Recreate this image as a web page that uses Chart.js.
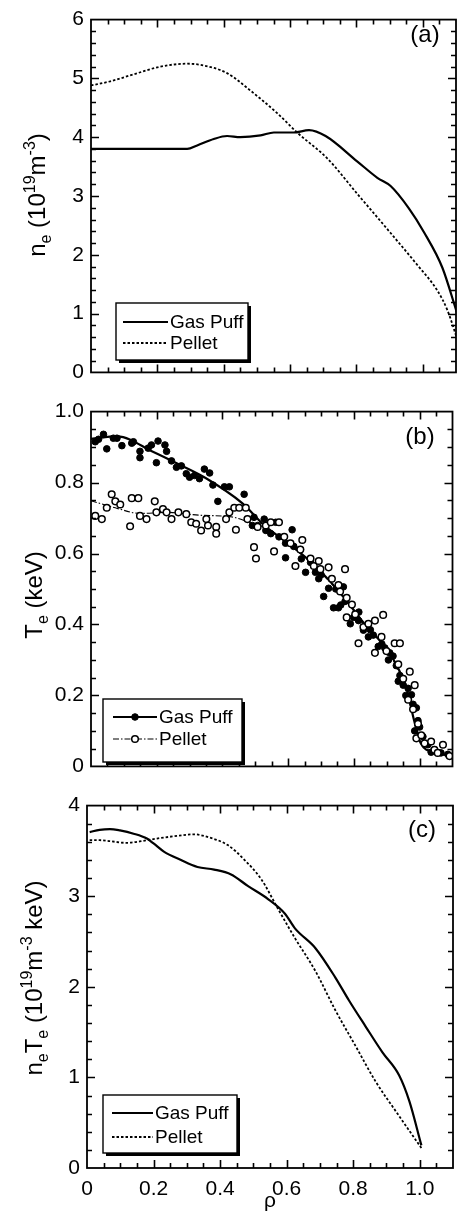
<!DOCTYPE html>
<html><head><meta charset="utf-8">
<script src="https://cdn.jsdelivr.net/npm/chart.js@4.4.0/dist/chart.umd.min.js"></script>
<style>
html,body{margin:0;padding:0;background:#fff;width:458px;height:1214px;overflow:hidden}
canvas{position:absolute;left:0}
</style></head><body>
<canvas id="ca" width="458" height="392" style="top:0px"></canvas>
<canvas id="cb" width="458" height="394" style="top:392px"></canvas>
<canvas id="cc" width="458" height="428" style="top:786px"></canvas>
<script>
// ---------- DATA ----------
const xTickValues = [0, 0.2, 0.4, 0.6, 0.8, 1.0];
const xTickLabels = ['0', '0.2', '0.4', '0.6', '0.8', '1.0'];
// panel (a): electron density
const yTicksA = [0, 1, 2, 3, 4, 5, 6];
const yLabelsA = ['0', '1', '2', '3', '4', '5', '6'];
const rhoNeGas = [0, 0.290, 0.320, 0.370, 0.410, 0.450, 0.511, 0.551, 0.611, 0.657, 0.707, 0.802, 0.863, 0.903, 0.958, 1.004, 1.059, 1.102];
const neGas    = [3.80, 3.80, 3.86, 3.97, 4.02, 4.00, 4.03, 4.08, 4.08, 4.12, 4.02, 3.59, 3.31, 3.17, 2.79, 2.38, 1.78, 1.03];
const rhoNePel = [0, 0.058, 0.129, 0.209, 0.290, 0.330, 0.410, 0.481, 0.561, 0.621, 0.712, 0.802, 0.903, 0.983, 1.044, 1.074, 1.104];
const nePel    = [4.88, 4.95, 5.07, 5.20, 5.25, 5.23, 5.09, 4.79, 4.41, 4.08, 3.64, 3.04, 2.37, 1.83, 1.39, 1.06, 0.56];
// panel (b): electron temperature
const yTicksB = [0, 0.2, 0.4, 0.6, 0.8, 1.0];
const yLabelsB = ['0', '0.2', '0.4', '0.6', '0.8', '1.0'];
const rhoTeGasPts = [0.013,0.023,0.038,0.048,0.068,0.079,0.094,0.124,0.129,0.149,0.149,0.174,0.184,0.204,0.199,0.225,0.230,0.245,0.260,0.275,0.290,0.300,0.315,0.330,0.345,0.361,0.371,0.386,0.406,0.421,0.466,0.496,0.527,0.491,0.507,0.532,0.547,0.562,0.572,0.592,0.612,0.592,0.617,0.637,0.653,0.668,0.683,0.693,0.708,0.723,0.738,0.753,0.768,0.773,0.789,0.799,0.814,0.829,0.844,0.859,0.874,0.894,0.909,0.919,0.929,0.940,0.950,0.965,0.975,0.980,0.990,0.995,1.000,1.010,1.025,1.045,1.065,1.086,0.640,0.700,0.745,0.760,0.815,0.850,0.885,0.905,0.935,0.958,0.985,1.035];
const teGasPts    = [0.915,0.922,0.936,0.895,0.925,0.925,0.904,0.911,0.915,0.888,0.870,0.897,0.906,0.917,0.856,0.906,0.888,0.861,0.843,0.847,0.825,0.815,0.820,0.811,0.838,0.827,0.793,0.747,0.788,0.788,0.767,0.702,0.697,0.679,0.679,0.665,0.656,0.688,0.647,0.629,0.667,0.588,0.620,0.611,0.547,0.575,0.547,0.529,0.479,0.502,0.447,0.447,0.506,0.465,0.402,0.420,0.411,0.384,0.365,0.370,0.338,0.334,0.320,0.311,0.284,0.256,0.229,0.220,0.202,0.175,0.165,0.129,0.111,0.084,0.061,0.047,0.038,0.034,0.585,0.540,0.500,0.455,0.435,0.385,0.345,0.300,0.240,0.200,0.100,0.040];
const rhoTePelPts = [0.013,0.033,0.048,0.063,0.074,0.089,0.119,0.124,0.144,0.149,0.169,0.194,0.199,0.219,0.230,0.245,0.266,0.290,0.305,0.320,0.335,0.351,0.356,0.381,0.381,0.411,0.421,0.436,0.451,0.471,0.441,0.476,0.496,0.502,0.507,0.532,0.547,0.557,0.572,0.588,0.607,0.622,0.643,0.637,0.668,0.678,0.693,0.698,0.723,0.733,0.773,0.753,0.758,0.778,0.794,0.778,0.804,0.814,0.829,0.844,0.864,0.864,0.884,0.889,0.899,0.924,0.940,0.935,0.950,0.970,0.965,0.985,0.980,0.995,0.990,1.005,1.015,1.035,1.045,1.071,1.091,1.055];
const tePelPts    = [0.706,0.697,0.729,0.767,0.747,0.738,0.677,0.756,0.756,0.706,0.697,0.747,0.716,0.725,0.716,0.697,0.716,0.711,0.688,0.684,0.665,0.697,0.679,0.675,0.656,0.697,0.716,0.729,0.729,0.729,0.667,0.697,0.618,0.586,0.675,0.679,0.688,0.606,0.688,0.647,0.629,0.565,0.638,0.611,0.586,0.565,0.579,0.556,0.561,0.529,0.556,0.511,0.493,0.475,0.456,0.420,0.429,0.347,0.393,0.402,0.411,0.320,0.365,0.427,0.325,0.347,0.347,0.288,0.247,0.267,0.188,0.229,0.161,0.120,0.079,0.088,0.065,0.070,0.047,0.061,0.029,0.038];
const rhoTeGasFit = [0, 0.08, 0.19, 0.27, 0.35, 0.46, 0.53, 0.61, 0.69, 0.77, 0.83, 0.90, 0.93, 0.96, 0.983, 1.003, 1.048, 1.093];
const teGasFit    = [0.923, 0.930, 0.886, 0.850, 0.812, 0.742, 0.677, 0.622, 0.558, 0.476, 0.404, 0.331, 0.285, 0.221, 0.130, 0.066, 0.039, 0.030];
const rhoTePelFit = [0, 0.08, 0.15, 0.23, 0.33, 0.43, 0.49, 0.53, 0.61, 0.69, 0.77, 0.83, 0.90, 0.93, 0.96, 0.985, 1.005, 1.05, 1.095];
const tePelFit    = [0.749, 0.727, 0.713, 0.716, 0.708, 0.703, 0.685, 0.672, 0.620, 0.555, 0.474, 0.400, 0.330, 0.280, 0.215, 0.125, 0.065, 0.040, 0.030];
// panel (c): pressure n_e T_e
const yTicksC = [0, 1, 2, 3, 4];
const yLabelsC = ['0', '1', '2', '3', '4'];
const rhoPGas = [0.008,0.038,0.069,0.099,0.140,0.180,0.200,0.231,0.281,0.332,0.382,0.433,0.483,0.544,0.595,0.625,0.686,0.746,0.787,0.837,0.888,0.938,0.969,1.005];
const pGas    = [3.708,3.733,3.741,3.726,3.690,3.636,3.582,3.492,3.402,3.323,3.294,3.240,3.114,2.969,2.807,2.645,2.429,2.105,1.852,1.564,1.276,1.023,0.735,0.250];
const rhoPPel = [0.008,0.038,0.069,0.119,0.170,0.210,0.261,0.322,0.362,0.423,0.473,0.524,0.574,0.625,0.686,0.746,0.807,0.868,0.928,1.005];
const pPel    = [3.618,3.618,3.607,3.589,3.611,3.636,3.661,3.683,3.654,3.564,3.402,3.186,2.861,2.537,2.177,1.744,1.348,0.951,0.627,0.220];
const seriesNames = ['Gas Puff', 'Pellet'];

// ---------- HELPERS ----------
const FAM = '"Liberation Sans", Arial, Helvetica, sans-serif';
const pts = (xs, ys) => xs.map((x, i) => ({x: x, y: ys[i]}));

const decor = {
  id: 'decor',
  afterDraw(chart, args, o) {
    const ctx = chart.ctx, a = chart.chartArea, xs = chart.scales.x, ys = chart.scales.y;
    ctx.save();
    ctx.setLineDash([]);
    ctx.strokeStyle = '#000';
    ctx.lineWidth = 1.6;
    const tickSet = (scale, minor, major, horiz) => {
      const n = Math.round((scale.max - scale.min) / minor);
      for (let i = 1; i < n; i++) {
        const v = scale.min + i * minor;
        const r = v / major;
        const len = Math.abs(r - Math.round(r)) < 1e-6 ? 8 : 5;
        const p = Math.round(scale.getPixelForValue(v)) + 0.5;
        ctx.beginPath();
        if (horiz) {
          ctx.moveTo(p, a.bottom); ctx.lineTo(p, a.bottom - len);
          ctx.moveTo(p, a.top); ctx.lineTo(p, a.top + len);
        } else {
          ctx.moveTo(a.left, p); ctx.lineTo(a.left + len, p);
          ctx.moveTo(a.right, p); ctx.lineTo(a.right - len, p);
        }
        ctx.stroke();
      }
    };
    tickSet(xs, o.xMinor, o.xMajor, true);
    tickSet(ys, o.yMinor, o.yMajor, false);
    ctx.lineWidth = 1.8;
    ctx.strokeRect(a.left, a.top, a.right - a.left, a.bottom - a.top);

    // legend
    const L = o.legend;
    ctx.fillStyle = '#000';
    ctx.fillRect(L.x + 3, L.y + 3, L.w, L.h);
    ctx.fillStyle = '#fff';
    ctx.fillRect(L.x, L.y, L.w, L.h);
    ctx.lineWidth = 1.4;
    ctx.strokeRect(L.x, L.y, L.w, L.h);
    ctx.font = L.size + 'px ' + FAM;
    ctx.textBaseline = 'middle';
    ctx.textAlign = 'left';
    L.items.forEach((it, k) => {
      const y = L.rows[k];
      const ds = chart.data.datasets[it.line];
      ctx.save();
      ctx.strokeStyle = '#000';
      ctx.lineWidth = ds.borderWidth;
      ctx.setLineDash(ds.borderDash || []);
      ctx.beginPath(); ctx.moveTo(L.lineX[0], y); ctx.lineTo(L.lineX[1], y); ctx.stroke();
      ctx.restore();
      if (it.marker !== undefined) {
        const m = chart.data.datasets[it.marker];
        ctx.beginPath();
        ctx.arc((L.lineX[0] + L.lineX[1]) / 2, y, m.pointRadius, 0, Math.PI * 2);
        ctx.fillStyle = m.pointBackgroundColor; ctx.fill();
        ctx.lineWidth = m.pointBorderWidth; ctx.strokeStyle = '#000'; ctx.stroke();
      }
      ctx.fillStyle = '#000';
      ctx.fillText(seriesNames[k], L.textX, y + 1);
    });

    // panel tag
    ctx.font = o.tag.size + 'px ' + FAM;
    ctx.textAlign = 'center';
    ctx.textBaseline = 'middle';
    ctx.fillStyle = '#000';
    ctx.fillText(o.tag.text, o.tag.x, o.tag.y);

    // y title with sub/superscripts (rotated)
    const T = o.ytitle;
    ctx.save();
    ctx.translate(T.x, T.y);
    ctx.rotate(-Math.PI / 2);
    ctx.textAlign = 'left';
    ctx.textBaseline = 'alphabetic';
    const small = Math.round(T.size * 0.66);
    let total = 0;
    T.segs.forEach(s => {
      ctx.font = (s[1] ? small : T.size) + 'px ' + FAM;
      total += ctx.measureText(s[0]).width;
    });
    let cx = -total / 2;
    T.segs.forEach(s => {
      ctx.font = (s[1] ? small : T.size) + 'px ' + FAM;
      const dy = s[1] === 'sub' ? T.size * 0.24 : (s[1] === 'sup' ? -T.size * 0.42 : 0);
      ctx.fillText(s[0], cx, dy);
      cx += ctx.measureText(s[0]).width;
    });
    ctx.restore();
    ctx.restore();
  }
};

function makeOptions(cfg) {
  return {
    responsive: false, animation: false, devicePixelRatio: 1,
    layout: {padding: cfg.pad},
    scales: {
      x: {
        type: 'linear', min: 0, max: 1.1, display: cfg.showX,
        grid: {display: false, drawTicks: false}, border: {display: false},
        afterBuildTicks: s => { s.ticks = xTickValues.map(v => ({value: v})); },
        afterFit: s => { s.height = cfg.xHeight; },
        ticks: {callback: (v, i) => xTickLabels[i], font: {family: FAM, size: 21}, color: '#000', padding: 9, maxRotation: 0, autoSkip: false},
        title: {display: cfg.showX, text: 'ρ', font: {family: FAM, size: 21}, color: '#000', padding: {top: 0, bottom: 0}}
      },
      y: {
        type: 'linear', min: cfg.yMin, max: cfg.yMax,
        grid: {display: false, drawTicks: false}, border: {display: false},
        afterBuildTicks: s => { s.ticks = cfg.yTicks.map(v => ({value: v})); },
        afterFit: s => { s.width = cfg.left; },
        ticks: {callback: (v, i) => cfg.yLabels[i], font: {family: FAM, size: 21}, color: '#000', padding: 7, autoSkip: false}
      }
    },
    plugins: {legend: {display: false}, tooltip: {enabled: false}, decor: cfg.decor}
  };
}

const solid = {borderColor: '#000', borderWidth: 2.2, pointRadius: 0, showLine: true, fill: false, cubicInterpolationMode: 'monotone'};
const dotted = {borderColor: '#000', borderWidth: 1.8, borderDash: [2.5, 2], pointRadius: 0, showLine: true, fill: false, cubicInterpolationMode: 'monotone'};

// ---------- PANEL (a) ----------
new Chart(document.getElementById('ca'), {
  type: 'scatter',
  data: {datasets: [
    Object.assign({label: seriesNames[0], data: pts(rhoNeGas, neGas)}, solid),
    Object.assign({label: seriesNames[1], data: pts(rhoNePel, nePel)}, dotted)
  ]},
  options: makeOptions({
    pad: {top: 13, left: 0, right: 2, bottom: 14.5}, showX: false, xHeight: 0, left: 91,
    yMin: 0, yMax: 6, yTicks: yTicksA, yLabels: yLabelsA,
    decor: {
      xMinor: 0.05, xMajor: 0.2, yMinor: 0.2, yMajor: 1,
      legend: {x: 116, y: 303, w: 132, h: 57, rows: [322, 343], lineX: [123, 168], textX: 170, size: 19,
               items: [{line: 0}, {line: 1}]},
      tag: {text: '(a)', x: 425, y: 35, size: 24},
      ytitle: {x: 45, y: 195, size: 24, segs: [['n'], ['e', 'sub'], [' (10'], ['19', 'sup'], ['m'], ['-3', 'sup'], [')']]}
    }
  }),
  plugins: [decor]
});

// ---------- PANEL (b) ----------
new Chart(document.getElementById('cb'), {
  type: 'scatter',
  data: {datasets: [
    Object.assign({label: seriesNames[0] + ' fit', data: pts(rhoTeGasFit, teGasFit), order: 2}, solid),
    Object.assign({label: seriesNames[1] + ' fit', data: pts(rhoTePelFit, tePelFit), order: 3}, solid, {borderWidth: 1.1, borderDash: [6, 2, 1.5, 2]}),
    {label: seriesNames[0], data: pts(rhoTeGasPts, teGasPts), order: 1, showLine: false,
     pointRadius: 3.3, pointBackgroundColor: '#000', pointBorderColor: '#000', pointBorderWidth: 1},
    {label: seriesNames[1], data: pts(rhoTePelPts, tePelPts), order: 0, showLine: false,
     pointRadius: 3.3, pointBackgroundColor: '#fff', pointBorderColor: '#000', pointBorderWidth: 1.5}
  ]},
  options: makeOptions({
    pad: {top: 13, left: 0, right: 3, bottom: 15.4}, showX: false, xHeight: 0, left: 91,
    yMin: 0, yMax: 1, yTicks: yTicksB, yLabels: yLabelsB,
    decor: {
      xMinor: 0.05, xMajor: 0.2, yMinor: 0.05, yMajor: 0.2,
      legend: {x: 103, y: 307, w: 139, h: 63, rows: [325, 347], lineX: [113, 157], textX: 159, size: 19,
               items: [{line: 0, marker: 2}, {line: 1, marker: 3}]},
      tag: {text: '(b)', x: 420, y: 45, size: 24},
      ytitle: {x: 42, y: 203, size: 24, segs: [['T'], ['e', 'sub'], [' (keV)']]}
    }
  }),
  plugins: [decor]
});

// ---------- PANEL (c) ----------
new Chart(document.getElementById('cc'), {
  type: 'scatter',
  data: {datasets: [
    Object.assign({label: seriesNames[0], data: pts(rhoPGas, pGas)}, solid),
    Object.assign({label: seriesNames[1], data: pts(rhoPPel, pPel)}, dotted)
  ]},
  options: makeOptions({
    pad: {top: 12, left: 0, right: 5, bottom: 0}, showX: true, xHeight: 46, left: 87,
    yMin: 0, yMax: 4, yTicks: yTicksC, yLabels: yLabelsC,
    decor: {
      xMinor: 0.05, xMajor: 0.2, yMinor: 0.2, yMajor: 1,
      legend: {x: 103, y: 309, w: 134, h: 58, rows: [327, 351], lineX: [112, 153], textX: 155, size: 19,
               items: [{line: 0}, {line: 1}]},
      tag: {text: '(c)', x: 422, y: 44, size: 24},
      ytitle: {x: 42, y: 192, size: 24, segs: [['n'], ['e', 'sub'], ['T'], ['e', 'sub'], [' (10'], ['19', 'sup'], ['m'], ['-3', 'sup'], [' keV)']]}
    }
  }),
  plugins: [decor]
});
</script>
</body></html>
